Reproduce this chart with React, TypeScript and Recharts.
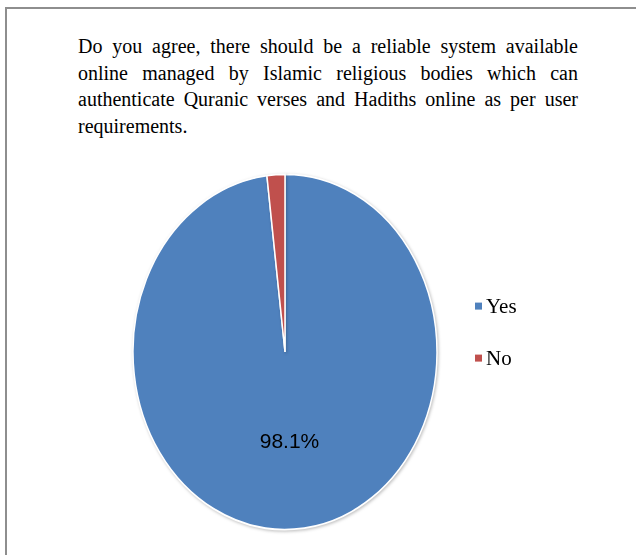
import { PieChart, Pie, Cell, Legend } from 'recharts';

const categories = ['Yes', 'No'];
const shares = [98.1, 1.9];
const sliceColors = ['#4F81BD', '#C0504D'];
const title =
    'Do you agree, there should be a reliable system available online managed by Islamic religious bodies which can authenticate Quranic verses and Hadiths online as per user requirements.';

// the original pie is an ellipse, so the chart layer is stretched vertically
const STRETCH = 1.168;
const CX = 285;
const CY = 352;
const RADIUS = 152;
const MARGIN = 5;

const data = categories.map((name, i) => ({ name, value: shares[i] }));

const renderLabel = (props: any) => {
    const { cx, cy, midAngle, outerRadius, percent } = props;
    if (percent < 0.05) return null;
    const rad = Math.PI / 180;
    const r = outerRadius * 0.5;
    const x = cx + r * Math.cos(-midAngle * rad);
    const y = cy + r * Math.sin(-midAngle * rad);
    return (
        <text
            x={x}
            y={y}
            transform={`translate(${x} ${y}) scale(1 ${1 / STRETCH}) translate(${-x} ${-y})`}
            textAnchor="middle"
            dominantBaseline="central"
            fontFamily="'Liberation Sans', Arial, sans-serif"
            fontSize={21}
            fill="#000"
        >
            {`${(percent * 100).toFixed(1)}%`}
        </text>
    );
};

const renderLegend = (props: any) => {
    // keep the legend in the data order (Yes first)
    const items = [...(props.payload || [])].sort(
        (a: any, b: any) => categories.indexOf(a.value) - categories.indexOf(b.value)
    );
    return (
        <div style={{ transform: `scaleY(${1 / STRETCH})`, transformOrigin: '0 0' }}>
            {items.map((entry: any, i: number) => (
                <div key={`leg-${i}`} style={{ display: 'flex', alignItems: 'center', height: 24, marginBottom: 28 }}>
                    <span style={{ width: 7, height: 7, background: entry.color, display: 'inline-block', marginRight: 4 }} />
                    <span style={{ fontFamily: "'Liberation Serif', 'Times New Roman', serif", fontSize: 21, color: '#000' }}>
                        {entry.value}
                    </span>
                </div>
            ))}
        </div>
    );
};

export default function App() {
    const legendTop = CY + (294 - CY) / STRETCH;
    return (
        <div style={{ position: 'absolute', left: 0, top: 0, width: 636, height: 555, overflow: 'hidden', background: '#fff' }}>
            <div style={{ position: 'absolute', left: 5, top: 7, width: 660, height: 580, border: '2px solid #8e8e8e', boxSizing: 'border-box' }} />
            <div
                style={{
                    position: 'absolute',
                    left: 78,
                    top: 33,
                    width: 500,
                    fontFamily: "'Liberation Serif', 'Times New Roman', serif",
                    fontSize: 20,
                    lineHeight: '26.5px',
                    textAlign: 'justify',
                    color: '#000',
                }}
            >
                {title}
            </div>
            <div style={{ position: 'absolute', left: 0, top: 0, width: 636, height: 555, transform: `scaleY(${STRETCH})`, transformOrigin: `0 ${CY}px` }}>
                <PieChart width={636} height={555} margin={{ top: MARGIN, right: MARGIN, bottom: MARGIN, left: MARGIN }}>
                    <Pie
                        data={data}
                        dataKey="value"
                        nameKey="name"
                        cx={CX - MARGIN}
                        cy={CY - MARGIN}
                        outerRadius={RADIUS}
                        startAngle={90}
                        endAngle={-270}
                        stroke="#fff"
                        strokeWidth={1.5}
                        labelLine={false}
                        label={renderLabel}
                        isAnimationActive={false}
                        style={{ filter: 'drop-shadow(1px 1px 1.5px rgba(0,0,0,0.25))' }}
                    >
                        {data.map((d, i) => (
                            <Cell key={`cell-${d.name}`} fill={sliceColors[i]} />
                        ))}
                    </Pie>
                    <Legend
                        layout="vertical"
                        content={renderLegend}
                        wrapperStyle={{ position: 'absolute', left: 475, top: legendTop, width: 80 }}
                    />
                </PieChart>
            </div>
        </div>
    );
}
